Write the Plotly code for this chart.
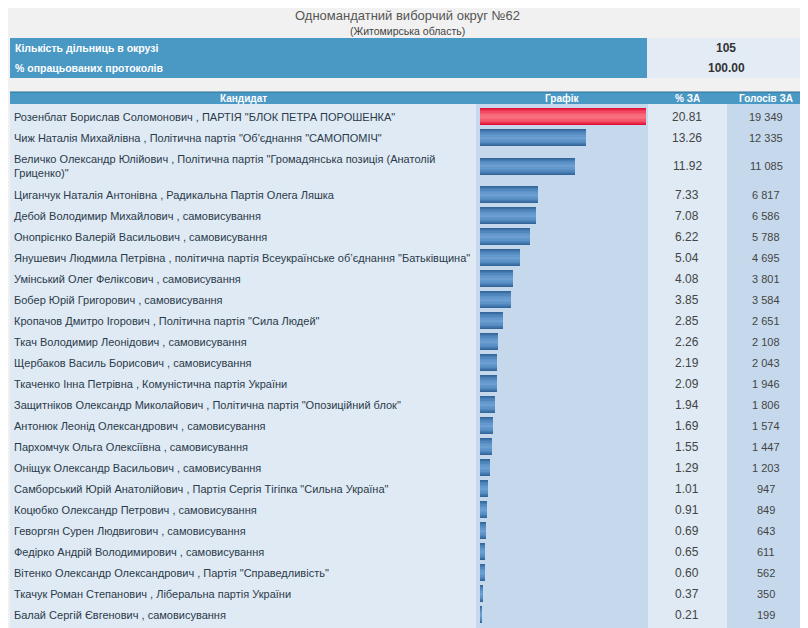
import textwrap
import plotly.graph_objects as go

candidates = [
    'Розенблат Борислав Соломонович , ПАРТІЯ "БЛОК ПЕТРА ПОРОШЕНКА"',
    'Чиж Наталія Михайлівна , Політична партія "Об\'єднання "САМОПОМІЧ"',
    'Величко Олександр Юлійович , Політична партія "Громадянська позиція (Анатолій Гриценко)"',
    'Циганчук Наталія Антонівна , Радикальна Партія Олега Ляшка',
    'Дебой Володимир Михайлович , самовисування',
    'Онопрієнко Валерій Васильович , самовисування',
    'Янушевич Людмила Петрівна , політична партія Всеукраїнське об’єднання "Батьківщина"',
    'Умінський Олег Феліксович , самовисування',
    'Бобер Юрій Григорович , самовисування',
    'Кропачов Дмитро Ігорович , Політична партія "Сила Людей"',
    'Ткач Володимир Леонідович , самовисування',
    'Щербаков Василь Борисович , самовисування',
    'Ткаченко Інна Петрівна , Комуністична партія України',
    'Защитніков Олександр Миколайович , Політична партія "Опозиційний блок"',
    'Антонюк Леонід Олександрович , самовисування',
    'Пархомчук Ольга Олексіївна , самовисування',
    'Оніщук Олександр Васильович , самовисування',
    'Самборський Юрій Анатолійович , Партія Сергія Тігіпка "Сильна Україна"',
    'Коцюбко Олександр Петрович , самовисування',
    'Геворгян Сурен Людвигович , самовисування',
    'Федірко Андрій Володимирович , самовисування',
    'Вітенко Олександр Олександрович , Партія "Справедливість"',
    'Ткачук Роман Степанович , Ліберальна партія України',
    'Балай Сергій Євгенович , самовисування',
]
pct = [20.81, 13.26, 11.92, 7.33, 7.08, 6.22, 5.04, 4.08, 3.85, 2.85, 2.26, 2.19,
       2.09, 1.94, 1.69, 1.55, 1.29, 1.01, 0.91, 0.69, 0.65, 0.60, 0.37, 0.21]
votes = [19349, 12335, 11085, 6817, 6586, 5788, 4695, 3801, 3584, 2651, 2108, 2043,
         1946, 1806, 1574, 1447, 1203, 947, 849, 643, 611, 562, 350, 199]

title = "Одномандатний виборчий округ №62"
subtitle = "(Житомирська область)"
info_labels = ["Кількість дільниць в окрузі", "% опрацьованих протоколів"]
info_values = ["105", "100.00"]
headers = ["Кандидат", "Графік", "% ЗА", "Голосів ЗА"]

# the page body has an 8px margin, so the figure starts at (8, 8)
OFF = 8
W, H = 808 - OFF, 628 - OFF
FONT = "Liberation Sans"
HEAD_BLUE = "#4a98c4"
LIGHT = "#dfeaf4"
MID = "#c6d9ec"

# wrap long names and work out row positions (page pixels from top)
labels = ["<br>".join(textwrap.wrap(c, 86)) for c in candidates]
centers = []
top = 106
for lab in labels:
    h = 21 if "<br>" not in lab else 36
    centers.append(top + h / 2)
    top += h


def px(x):
    return (x - OFF) / W


fig = go.Figure()

# gradient bars: stacked layers, darker at the edges
blue_layers = ["#35669b", "#3e72a7", "#477db2", "#5188bd", "#5b92c7", "#6599cd", "#6c9fd1"]
red_layers = ["#e0123a", "#e82446", "#ee3753", "#f24a62", "#f55b6f", "#f76878", "#f8707f"]
widths = [17, 15, 13, 11, 8, 5, 2]
for bc, rc, w in zip(blue_layers, red_layers, widths):
    fig.add_trace(go.Bar(
        x=pct, y=centers, orientation="h", width=w,
        marker=dict(color=[rc] + [bc] * (len(pct) - 1), line=dict(width=0)),
        hoverinfo="skip", showlegend=False,
    ))

shapes = []
annotations = []


def rect(x0, x1, y0, y1, color):
    shapes.append(dict(type="rect", xref="paper", yref="y", x0=px(x0), x1=px(x1),
                       y0=y0, y1=y1, fillcolor=color, line=dict(width=0), layer="below"))


def text(x, y, s, size, color, anchor="center", bold=False):
    annotations.append(dict(x=px(x), y=y, xref="paper", yref="y",
                            text="<b>%s</b>" % s if bold else s,
                            xanchor=anchor, align="left", showarrow=False,
                            font=dict(family=FONT, size=size, color=color)))


# info box
rect(10, 647, 38, 78, HEAD_BLUE)
rect(647, 805, 38, 78, "#e3ecf5")
for i, (lab, val) in enumerate(zip(info_labels, info_values)):
    y = 48 + i * 20
    text(13, y, lab, 10.5, "white", anchor="left", bold=True)
    text(726, y, val, 12, "#333333", bold=True)

# title
text(407, 15, title, 13, "#555555")
text(407, 31, subtitle, 10.5, "#444444")

# table columns
cols = [(10, 476, LIGHT), (476, 648, MID), (648, 727, LIGHT), (727, 805, MID)]
for x0, x1, c in cols:
    rect(x0, x1, 104, 628, c)
rect(10, 805, 92, 104, HEAD_BLUE)
shapes.append(dict(type="line", xref="paper", yref="y", x0=px(10), x1=px(805),
                   y0=92, y1=92, line=dict(color="#2f6f96", width=1), layer="below"))
for (x0, x1, _), head in zip(cols, headers):
    text((x0 + x1) / 2, 98, head, 10, "white", bold=True)

for lab, p, v, y in zip(labels, pct, votes, centers):
    text(12, y, lab, 11, "#2b3a4a", anchor="left")
    text(687, y, "%.2f" % p, 12, "#444444")
    text(766, y, "{:,}".format(v).replace(",", " "), 11, "#444444")

fig.update_layout(
    width=W, height=H,
    margin=dict(l=0, r=0, t=0, b=0),
    paper_bgcolor="#f1f1f1",
    plot_bgcolor="rgba(0,0,0,0)",
    barmode="overlay",
    bargap=0,
    xaxis=dict(domain=[px(480), px(646)], range=[0, max(pct)], visible=False, fixedrange=True),
    yaxis=dict(domain=[0, 1], range=[628, OFF], visible=False, fixedrange=True),
    shapes=shapes,
    annotations=annotations,
)

fig.write_html("out.html")
